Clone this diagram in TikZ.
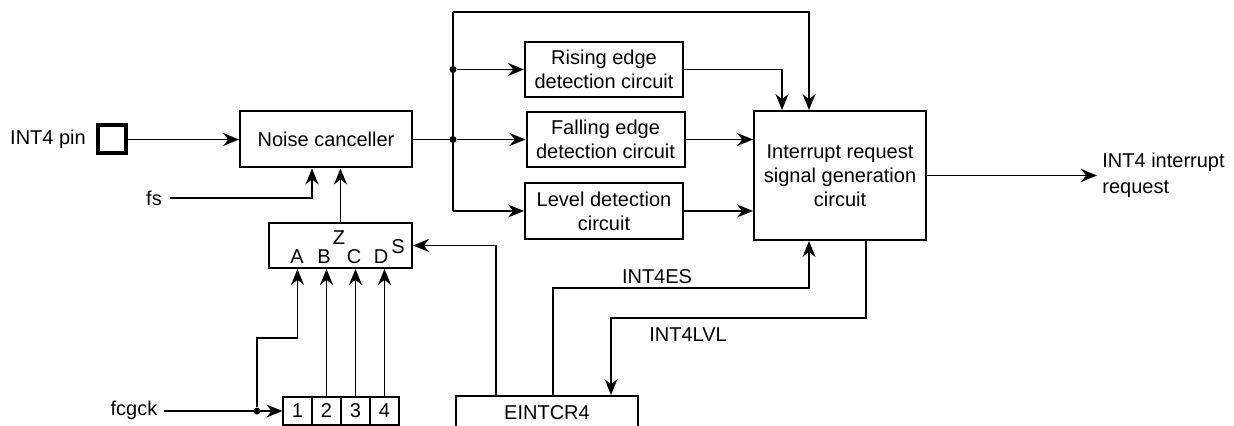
\documentclass[tikz,border=0pt]{standalone}
\usepackage{fontspec}
\setmainfont{Liberation Sans}
\usetikzlibrary{arrows.meta}
\begin{document}
\begin{tikzpicture}[x=0.5pt,y=-0.5pt,
  box/.style={draw,line width=1pt,align=center,inner sep=0pt,font=\fontsize{10}{12}\selectfont},
  cell/.style={draw,line width=0.6pt,minimum width=14.5pt,minimum height=14pt,inner sep=0pt,font=\fontsize{10}{12}\selectfont},
  sig/.style={line width=0.7pt,-{Stealth[length=8pt,width=6.5pt]}},
  wire/.style={line width=0.7pt},
  dot/.style={circle,fill,inner sep=0pt,minimum size=3.5pt},
  lbl/.style={inner sep=0pt,font=\fontsize{10}{12}\selectfont}]
\clip (0,0) rectangle (1234,426);
\node[lbl] (pinlbl) at (48,139.5) {INT4 pin};
\node[draw,line width=2pt,minimum size=14pt,inner sep=0pt] (pin) at (112,139.5) {};
\node[box,minimum width=86pt,minimum height=28pt] (noise) at (326,139.5) {Noise canceller};
\node[lbl,inner xsep=4pt] (fs) at (154,198) {fs};
\node[box,minimum width=71.5pt,minimum height=22.5pt] (mux) at (340.5,245.5) {};
\node[lbl] (z) at (339,238) {Z};
\node[lbl] (s) at (398,247) {S};
\node[lbl] (a) at (297,257) {A};
\node[lbl] (b) at (324,257) {B};
\node[lbl] (c) at (354,257) {C};
\node[lbl] (d) at (381,257) {D};
\foreach \i in {1,...,4}
  \node[cell] (c\i) at ({268.5+29*\i},411) {\i};
\node[lbl,inner xsep=3pt] (fcgck) at (134,410) {fcgck};
\node[box,minimum width=91pt,minimum height=17pt] (reg) at (547,413) {EINTCR4};
\node[box,minimum width=79pt,minimum height=27.5pt] (rise) at (604,69.5) {Rising edge\\detection circuit};
\node[box,minimum width=79pt,minimum height=27.5pt] (fall) at (605.5,139.5) {Falling edge\\detection circuit};
\node[box,minimum width=79pt,minimum height=28pt] (level) at (604,211) {Level detection\\circuit};
\node[box,minimum width=86pt,minimum height=64.5pt] (irq) at (840,175.5) {Interrupt request\\signal generation\\circuit};
\node[lbl,inner xsep=2.5pt,align=left,anchor=west,font=\fontsize{10}{13}\selectfont] (out) at (1097,175.5) {INT4 interrupt\\request};
\coordinate (split) at (453,139.5);
\coordinate (bustop) at (453,12);
\coordinate (busend) at (453,211);
\node[dot] (d1) at (453,69.5) {};
\node[dot] (d2) at (split) {};
\node[dot] (d3) at (257,411) {};
\draw[sig] (pin) -- (noise);
\draw[sig] (fs.east) -| ([xshift=-7pt]noise.south);
\draw[sig] (mux.north) -- (mux.north |- noise.south);
\draw[wire] (noise) -- (split);
\draw[wire] (bustop) -- (busend);
\draw[sig] (busend) -- (level);
\draw[sig] (d1) -- (rise);
\draw[sig] (d2) -- (fall);
\draw[sig] (bustop) -| ([xshift=-15.5pt]irq.north);
\draw[sig] (rise) -| ([xshift=-29pt]irq.north);
\draw[sig] (fall) -- (fall -| irq.west);
\draw[sig] (level) -- (level -| irq.west);
\draw[sig] (irq.east) -- (irq.east -| out.west);
\draw[sig] ([xshift=3pt]reg.north) -- ++(0,-107) -| ([xshift=-15.5pt]irq.south);
\node[lbl] (es) at (657,277) {INT4ES};
\draw[sig] ([xshift=13pt]irq.south) -- ++(0,77) -| ([xshift=32pt]reg.north);
\node[lbl] (lvl) at (688,335) {INT4LVL};
\draw[sig] ([xshift=-25.5pt]reg.north) |- (mux.east);
\draw[sig] (fcgck.east |- c1.west) -- (c1.west);
\draw[sig] (d3) -- ++(0,-73) -| (c1 |- mux.south);
\foreach \i in {2,3,4}
  \draw[sig] (c\i.north) -- (c\i |- mux.south);
\end{tikzpicture}
\end{document}
